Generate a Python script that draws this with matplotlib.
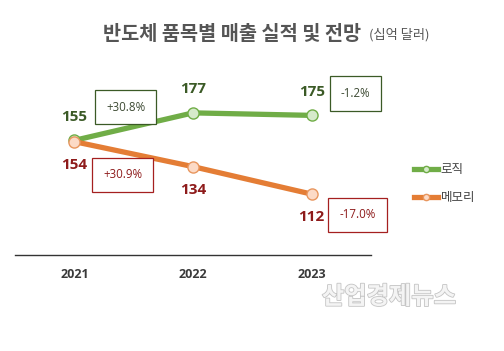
import matplotlib.pyplot as plt
import matplotlib.patheffects as pe
from matplotlib.lines import Line2D

plt.rcParams['font.family'] = ['Noto Sans CJK KR', 'DejaVu Sans']

years = [2021, 2022, 2023]
year_labels = ['2021', '2022', '2023']
logic = [155, 177, 175]
memory = [154, 134, 112]
logic_growth = ['+30.8%', None, '-1.2%']
memory_growth = ['+30.9%', None, '-17.0%']
series_names = ['로직', '메모리']

num_font = ['Open Sans', 'DejaVu Sans']
green = '#70ad47'
orange = '#e47d35'
green_dark = '#3b5a26'
red_dark = '#8e1b1b'

fig = plt.figure(figsize=(5.04, 3.51), dpi=100)
ax = fig.add_axes([15 / 504, 1 - 255 / 351, 356 / 504, 195 / 351])

ax.plot(years, logic, color=green, lw=3.8, marker='o', ms=8,
        mfc='#d6eacb', mec=green, mew=1.0, zorder=3, solid_capstyle='round')
ax.plot(years, memory, color=orange, lw=3.8, marker='o', ms=8,
        mfc='#fcdac6', mec='#e8965e', mew=1.0, zorder=3, solid_capstyle='round')

for x, v in zip(years, logic):
    ax.annotate(str(v), (x, v), xytext=(0, 17), textcoords='offset points',
                ha='center', va='center', fontsize=11, fontweight='bold',
                color=green_dark, family=num_font)
for x, v in zip(years, memory):
    ax.annotate(str(v), (x, v), xytext=(0, -16.5), textcoords='offset points',
                ha='center', va='center', fontsize=11, fontweight='bold',
                color=red_dark, family=num_font)

# growth boxes
logic_offsets = [(37, 24), None, (31.5, 16)]
memory_offsets = [(35, -24), None, (33, -15)]
for x, v, g, off in zip(years, logic, logic_growth, logic_offsets):
    if g:
        ax.annotate(g, (x, v), xytext=off, textcoords='offset points',
                    ha='center', va='center', fontsize=8.3, color='#3d4a33',
                    family=num_font,
                    bbox=dict(boxstyle='square,pad=0.95', fc='white',
                              ec=green_dark, lw=0.9))
for x, v, g, off in zip(years, memory, memory_growth, memory_offsets):
    if g:
        ax.annotate(g, (x, v), xytext=off, textcoords='offset points',
                    ha='center', va='center', fontsize=8.3, color=red_dark,
                    family=num_font,
                    bbox=dict(boxstyle='square,pad=0.95', fc='white',
                              ec='#a52020', lw=0.9))

ax.set_xlim(2020.5, 2023.5)
ax.set_ylim(63.3, 219.3)
ax.set_xticks(years)
ax.set_xticklabels(year_labels, fontsize=9, fontweight='bold',
                   color='#3a3a3a', family=num_font)
ax.tick_params(axis='x', length=0, pad=9)
ax.set_yticks([])
for s in ['top', 'left', 'right']:
    ax.spines[s].set_visible(False)
ax.spines['bottom'].set_color('#333333')
ax.spines['bottom'].set_linewidth(1.0)

handles = [Line2D([], [], color=green, lw=3.8, marker='o', ms=4.5,
                  mfc='#d6eacb', mec=green),
           Line2D([], [], color=orange, lw=3.8, marker='o', ms=4.5,
                  mfc='#fcdac6', mec='#e8965e')]
leg = fig.legend(handles, series_names, loc='center left',
                 bbox_to_anchor=(408 / 504, 1 - 183.5 / 351), frameon=False,
                 fontsize=9, handlelength=1.9, handletextpad=0.2,
                 labelspacing=1.2, borderpad=0)
for t in leg.get_texts():
    t.set_color('#444444')

fig.text(103 / 504, 1 - 34 / 351, '반도체 품목별 매출 실적 및 전망',
         fontsize=14.2, fontweight='bold', color='#555555', va='center')
fig.text(369 / 504, 1 - 35 / 351, '(십억 달러)', fontsize=9.5,
         color='#555555', va='center')

fig.text(389 / 504, 1 - 297 / 351, '산업경제뉴스', fontsize=17.5,
         fontweight='bold', color='#f4f4f4', ha='center', va='center',
         path_effects=[pe.withStroke(linewidth=1.2, foreground='#c4c4c4')])

fig.savefig('out.png', dpi=100)
